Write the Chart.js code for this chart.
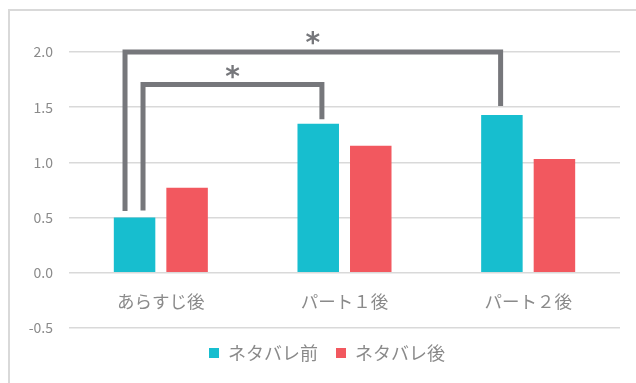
<!DOCTYPE html>
<html>
<head>
<meta charset="utf-8">
<script src="https://cdn.jsdelivr.net/npm/chart.js@4"></script>
<style>
html,body{margin:0;padding:0;background:#fff;}
#wrap{position:absolute;left:0;top:0;width:636px;height:383px;}
</style>
</head>
<body>
<div id="wrap"><canvas id="c" width="636" height="383"></canvas></div>
<script>
// ---- data ----
const categories = ['あらすじ後', 'パート１後', 'パート２後'];
const seriesNames = ['ネタバレ前', 'ネタバレ後'];
const beforeValues = [0.50, 1.35, 1.43];
const afterValues = [0.77, 1.15, 1.03];
const yTicks = [-0.5, 0.0, 0.5, 1.0, 1.5, 2.0];

// significance brackets (x in category units, y in data units)
const bracketX1 = [-0.195, -0.097];
const bracketX2 = [1.85, 0.877];
const bracketTop = [2.0, 1.705];
const bracketY1 = [0.56, 0.565];
const bracketY2 = [1.51, 1.39];
const bracketMark = ['*', '*'];
const bracketMarkY = [2.13, 1.82];

const FONT = '"Noto Sans CJK JP", "Noto Sans", sans-serif';
const TXT = '#8a8a8a';

const framePlugin = {
  id: 'frame',
  afterLayout(chart) {
    if (chart.legend) { chart.legend.left += 17; chart.legend.right += 17; chart.legend.top -= 2; chart.legend.bottom -= 2; }
  },
  beforeDraw(chart) {
    const ctx = chart.ctx;
    ctx.save();
    ctx.strokeStyle = '#d9d9d9';
    ctx.lineWidth = 2;
    ctx.beginPath();
    ctx.moveTo(9, chart.height);
    ctx.lineTo(9, 10);
    ctx.lineTo(chart.width, 10);
    ctx.stroke();
    ctx.restore();
  }
};

const bracketPlugin = {
  id: 'brackets',
  afterDatasetsDraw(chart) {
    const ctx = chart.ctx, xs = chart.scales.x, ys = chart.scales.y;
    ctx.save();
    ctx.strokeStyle = '#76777b';
    ctx.fillStyle = '#76777b';
    ctx.lineWidth = 5;
    ctx.lineJoin = 'miter';
    ctx.lineCap = 'butt';
    for (let i = 0; i < bracketX1.length; i++) {
      const x1 = xs.getPixelForValue(bracketX1[i]);
      const x2 = xs.getPixelForValue(bracketX2[i]);
      const yt = ys.getPixelForValue(bracketTop[i]);
      ctx.beginPath();
      ctx.moveTo(x1, ys.getPixelForValue(bracketY1[i]));
      ctx.lineTo(x1, yt);
      ctx.lineTo(x2, yt);
      ctx.lineTo(x2, ys.getPixelForValue(bracketY2[i]));
      ctx.stroke();
      ctx.font = 'bold 28px "DejaVu Sans", sans-serif';
      ctx.textAlign = 'center';
      ctx.textBaseline = 'middle';
      ctx.fillText(bracketMark[i], (x1 + x2) / 2, ys.getPixelForValue(bracketMarkY[i]) + 7);
    }
    ctx.restore();
  }
};

new Chart(document.getElementById('c'), {
  type: 'bar',
  data: {
    labels: categories,
    datasets: [
      {label: seriesNames[0], data: beforeValues, backgroundColor: '#17becf', borderWidth: 0},
      {label: seriesNames[1], data: afterValues, backgroundColor: '#f2585f', borderWidth: 0}
    ]
  },
  options: {
    responsive: false,
    animation: false,
    devicePixelRatio: 1,
    layout: {padding: {top: 52, right: 16, bottom: 9, left: 0}},
    datasets: {bar: {categoryPercentage: 0.572, barPercentage: 0.79}},
    plugins: {
      tooltip: {enabled: false},
      legend: {
        position: 'bottom',
        labels: {
          boxWidth: 10, boxHeight: 10, padding: 18,
          color: TXT, font: {family: FONT, size: 18}
        }
      }
    },
    scales: {
      x: {
        position: {y: 0},
        grid: {display: false, drawTicks: false},
        border: {display: false},
        ticks: {color: TXT, padding: 18, font: {family: FONT, size: 17.5}, maxRotation: 0}
      },
      y: {
        min: -0.5, max: 2.0,
        afterBuildTicks(scale) { scale.ticks = yTicks.map(v => ({value: v})); },
        afterFit(scale) { scale.width = 69; },
        grid: {color: '#d9d9d9', lineWidth: 1.5, drawTicks: false},
        border: {display: false},
        ticks: {
          color: TXT, padding: 16, font: {family: FONT, size: 14},
          callback: v => Number(v).toFixed(1)
        }
      }
    }
  },
  plugins: [framePlugin, bracketPlugin]
});
</script>
</body>
</html>
